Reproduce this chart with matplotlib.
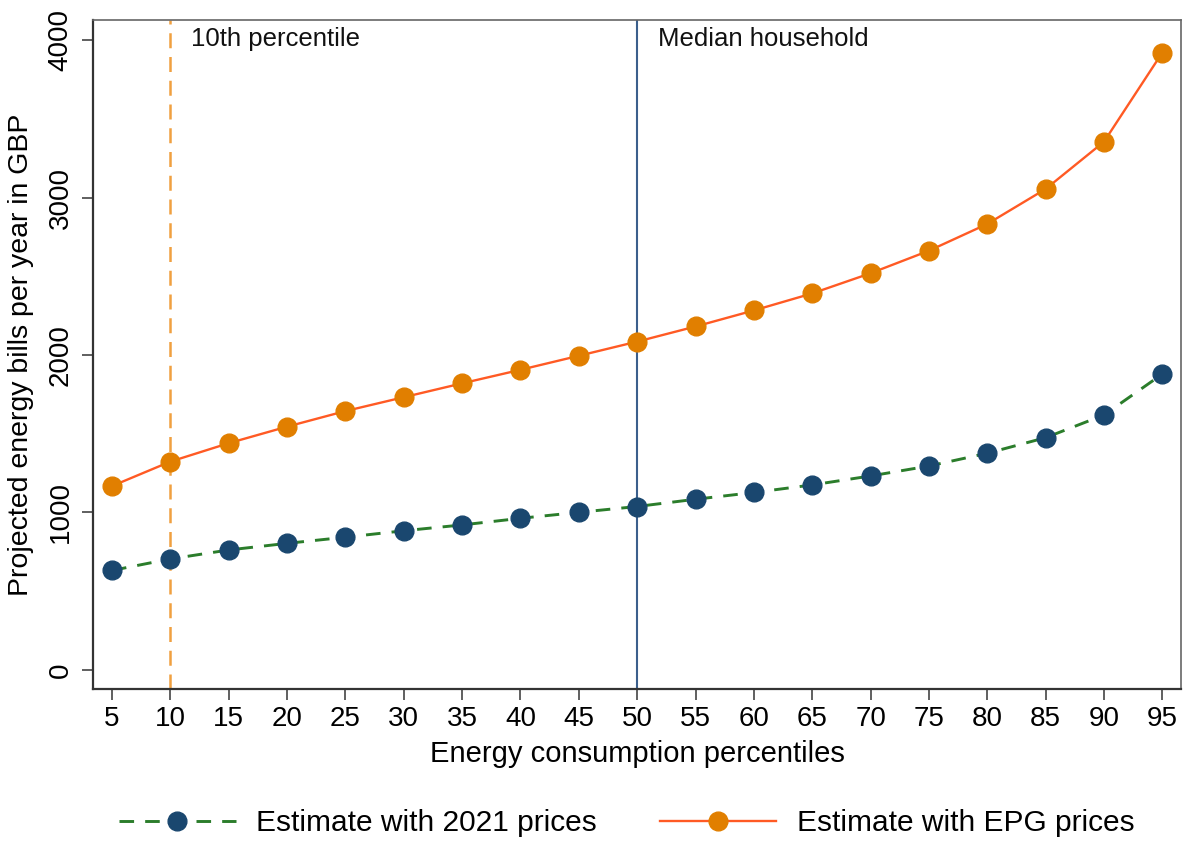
import matplotlib.pyplot as plt
import numpy as np

plt.rcParams['font.family'] = ['Liberation Sans', 'DejaVu Sans']

# Energy consumption percentiles and projected yearly bills (GBP)
percentiles = [5, 10, 15, 20, 25, 30, 35, 40, 45, 50, 55, 60, 65, 70, 75, 80, 85, 90, 95]
bills_2021 = [632, 705, 762, 804, 843, 884, 921, 963, 1001, 1038, 1084, 1127,
              1175, 1232, 1295, 1376, 1475, 1619, 1879]
bills_epg = [1168, 1323, 1440, 1545, 1644, 1732, 1820, 1906, 1995, 2085, 2181, 2283,
             2391, 2519, 2662, 2832, 3054, 3354, 3920]
yticks = [0, 1000, 2000, 3000, 4000]
ref_lines = [(10, '10th percentile'), (50, 'Median household')]

fig = plt.figure(figsize=(11.83, 8.41), dpi=100)
ax = fig.add_axes([0.0786, 0.1807, 0.9197, 0.7955])

navy = '#1a476f'
ax.plot(percentiles, bills_2021, color='#2b7d2b', lw=2.1, dashes=(5, 3.8),
        marker='o', markersize=13.5, markerfacecolor=navy, markeredgecolor=navy,
        label='Estimate with 2021 prices', zorder=3)
ax.plot(percentiles, bills_epg, color='#ff5a24', lw=1.7,
        marker='o', markersize=13.5, markerfacecolor='#e17f00', markeredgecolor='#e17f00',
        label='Estimate with EPG prices', zorder=3)

ax.axvline(ref_lines[0][0], color='#f0a040', lw=1.8, dashes=(6, 3.5), zorder=2)
ax.axvline(ref_lines[1][0], color='#3b5f8c', lw=1.5, zorder=2)
for xv, txt in ref_lines:
    ax.annotate(txt, xy=(xv, 1), xycoords=('data', 'axes fraction'),
                xytext=(15, -5), textcoords='offset points',
                ha='left', va='top', fontsize=18.5, color='#111111')

ax.set_xlim(3.37, 96.6)
ax.set_ylim(-121, 4127)
ax.set_xticks(percentiles)
ax.set_yticks(yticks)
ax.tick_params(axis='both', direction='out', length=8, width=1.2, color='#444444',
               labelsize=20, pad=4)
ax.tick_params(axis='y', labelrotation=90, pad=6)
for lab in ax.get_yticklabels():
    lab.set_verticalalignment('center')

ax.set_xlabel('Energy consumption percentiles', fontsize=21, labelpad=6)
ax.set_ylabel('Projected energy bills per year in GBP', fontsize=20.5, labelpad=10)

for side in ['left', 'bottom']:
    ax.spines[side].set_color('#333333')
    ax.spines[side].set_linewidth(1.6)
for side in ['top', 'right']:
    ax.spines[side].set_color('#666666')
    ax.spines[side].set_linewidth(1.2)

fig.legend(loc='center', bbox_to_anchor=(0.53, 0.0214), ncol=2, frameon=False,
           fontsize=21.5, handlelength=3.9, handletextpad=0.7, columnspacing=2.1,
           numpoints=1)

fig.savefig('out.png', dpi=100)
